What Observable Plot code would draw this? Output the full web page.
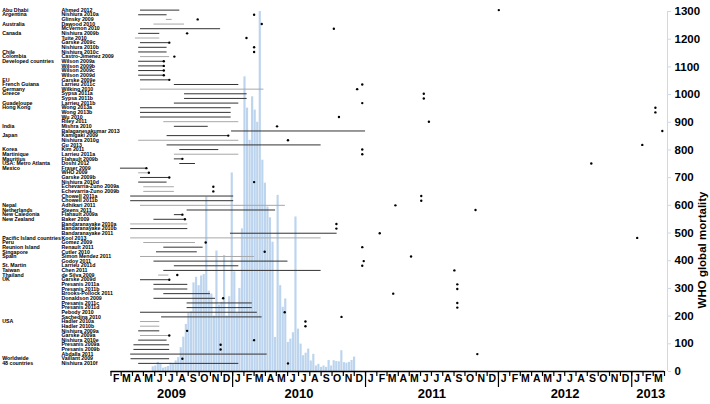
<!DOCTYPE html>
<html><head><meta charset="utf-8">
<script src="https://cdn.jsdelivr.net/npm/d3@7"></script>
<script src="https://cdn.jsdelivr.net/npm/@observablehq/plot@0.6"></script>
<style>
html,body{margin:0;padding:0;background:#fff;}
#chart{position:relative;width:710px;height:404px;font-family:"Liberation Sans",Arial,sans-serif;}
#chart svg{position:absolute;left:0;top:0;}
</style></head><body><div id="chart"></div>
<script>
// ---- Data ----
const studies = ["Ahmed 2012","Nishiura 2010a","Glinsky 2009","Dawood 2010","McVernon 2010","Nishiura 2009b","Tuite 2010","Garske 2009c","Nishiura 2010b","Nishiura 2010c","Castro-Jimenez 2009","Wilson 2009a","Wilson 2009b","Wilson 2009c","Wilson 2009d","Garske 2009e","Larrieu 2011c","Wilking 2010","Sypsa 2011a","Sypsa 2011b","Larrieu 2011b","Wong 2013a","Wong 2013b","Wu 2010","Riley 2011","Mishra 2010","Balaganesakumar 2013","Kamigaki 2009","Nishiura 2010g","Gu 2013","Kim 2011","Larrieu 2011a","Flahault 2009b","Doshi 2012","Fraser 2009","WHO 2009","Garske 2009b","Nishiura 2010d","Echevarria-Zuno 2009a","Echevarria-Zuno 2009b","Chowell 2011a","Chowell 2011b","Adhikari 2011","Steens 2011","Flahault 2009a","Baker 2009","Bandaranayake 2010a","Bandaranayake 2010b","Bandaranayake 2011","Kool 2013","Gomez 2009","Renault 2011","Cutler 2010","Simon Mendez 2011","Godoy 2011","Larrieu 2011d","Chen 2011","de Silva 2009","Garske 2009d","Presanis 2011a","Presanis 2011b","Brooks-Pollock 2011","Donaldson 2009","Presanis 2011c","Presanis 2011d","Pebody 2010","Sachedina 2010","Hadler 2010a","Hadler 2010b","Nishiura 2009a","Garske 2009a","Nishiura 2010e","Presanis 2009a","Presanis 2009b","Abdalla 2011","Vaillant 2009","Nishiura 2010f"];
const countries = ["Abu Dhabi","Argentina","","Australia","","Canada","","","","Chile","Colombia","Developed countries","","","","EU","French Guiana","Germany","Greece","","Guadeloupe","Hong Kong","","","","India","","Japan","","","Korea","Martinique","Mauritius","USA: Metro Atlanta","Mexico","","","","","","","","Nepal","Netherlands","New Caledonia","New Zealand","","","","Pacific Island countries","Peru","Reunion Island","Singapore","Spain","","St. Martin","Taiwan","Thailand","UK","","","","","","","","","USA","","","","","","","","Worldwide","48 countries"];
const periodStart = ["2009-04-23","2009-04-18","2009-07-03","2009-05-30","2009-04-23","2009-04-18","2009-04-09","2009-04-23","2009-04-18","2009-04-18","2009-04-23","2009-04-18","2009-04-18","2009-04-18","2009-04-18","2009-04-23","2009-07-25","2009-04-23","2009-08-22","2009-08-22","2009-07-25","2009-04-23","2009-04-23","2009-04-23","2009-06-26","2009-07-25","2009-12-29","2009-07-05","2009-04-18","2009-07-05","2009-08-09","2009-07-25","2009-07-25","2009-08-09","2009-02-27","2009-04-18","2009-04-23","2009-04-18","2009-05-02","2009-05-02","2009-03-27","2009-03-27","2009-04-23","2009-08-29","2009-07-25","2009-05-30","2009-03-27","2009-03-27","2009-12-26","2009-03-27","2009-05-02","2009-06-26","2009-06-06","2009-04-23","2009-05-30","2009-07-25","2009-06-26","2009-06-12","2009-04-23","2009-05-30","2009-05-30","2009-06-26","2009-05-30","2009-08-29","2009-08-29","2009-04-23","2009-06-20","2009-04-23","2009-04-23","2009-04-18","2009-04-23","2009-04-18","2009-04-05","2009-04-05","2009-03-27","2009-03-28","2009-04-18"];
const periodEnd = ["2009-08-09","2009-07-05","2009-07-19","2009-08-22","2009-11-29","2009-06-15","2009-06-15","2009-07-10","2009-07-05","2009-07-05","2009-07-12","2009-06-26","2009-06-26","2009-06-26","2009-06-26","2009-07-10","2010-01-18","2010-03-28","2010-02-10","2010-02-10","2010-01-18","2009-12-28","2009-12-28","2009-12-28","2010-01-18","2009-10-26","2011-01-01","2009-12-20","2010-01-18","2010-09-01","2009-11-24","2010-01-18","2009-08-16","2009-09-21","2009-05-07","2009-05-16","2009-07-10","2009-07-05","2009-07-25","2009-07-25","2010-01-04","2010-01-04","2010-05-26","2010-04-29","2009-08-16","2009-08-25","2009-08-31","2009-08-31","2010-10-15","2010-09-01","2009-09-21","2009-10-12","2009-09-26","2010-03-02","2010-06-02","2010-01-18","2010-09-01","2009-07-10","2009-07-10","2009-08-31","2009-08-31","2009-11-01","2009-11-15","2010-02-24","2010-02-24","2010-03-10","2010-03-23","2009-06-15","2009-06-15","2009-06-15","2009-07-10","2009-07-05","2009-07-12","2009-07-12","2010-04-06","2009-07-12","2010-01-18"];
const pubDate = ["2012-01-02","2010-03-01","2009-09-27","2010-03-22","2010-10-06","2009-08-29","2010-02-08","2009-07-11","2010-03-01","2010-03-01","2009-07-25","2009-06-26","2009-06-26","2009-06-26","2009-06-26","2009-07-11","2010-12-23","2010-12-09","2011-06-10","2011-06-10","2010-12-23","2013-03-07","2013-03-07","2010-10-20","2011-06-24","2010-05-03","2013-03-26","2009-12-20","2010-06-02","2013-01-30","2010-12-23","2010-12-23","2009-08-16","2012-09-12","2009-05-09","2009-05-16","2009-07-11","2010-03-01","2009-11-09","2009-11-09","2011-06-03","2011-06-03","2011-03-24","2011-10-30","2009-08-16","2009-08-23","2010-10-13","2010-10-13","2011-02-09","2013-01-16","2009-10-19","2010-12-23","2010-03-30","2011-05-06","2010-12-27","2010-12-23","2011-09-02","2009-08-02","2009-07-11","2011-09-10","2011-09-10","2011-03-18","2009-12-06","2011-09-10","2011-09-10","2010-05-24","2010-10-27","2010-07-20","2010-07-20","2009-08-29","2009-07-11","2010-03-01","2009-11-29","2009-11-29","2011-11-04","2009-08-16","2010-06-02"];
const lineGroup = [1,1,2,2,1,1,2,1,1,1,2,1,1,1,1,1,1,2,1,1,1,1,1,1,2,1,1,1,2,1,1,2,1,1,1,2,1,1,2,2,1,1,2,1,1,1,2,1,1,2,2,1,1,2,1,1,1,2,1,1,1,1,1,1,1,1,1,2,2,1,2,1,1,1,1,1,1];

// WHO global mortality, weekly, first week starting:
const firstWeek = "2009-05-25";
const mortality = [17,20,33,26,12,15,18,30,26,38,50,86,124,170,210,215,320,340,310,345,350,630,290,280,200,435,240,250,419,200,270,717,360,210,300,515,1064,951,835,992,944,900,1300,763,680,594,555,467,123,636,310,232,262,105,117,140,558,153,99,57,66,81,38,62,20,26,15,20,15,40,20,39,36,35,75,32,30,33,40,52];

const monthLetters = ["J","F","M","A","M","J","J","A","S","O","N","D"];
const yearLabels = ["2009","2010","2011","2012","2013"];
const yearLabelDates = ["2009-07-17","2010-07-02","2011-07-02","2012-07-02","2013-02-22"];
const yTicks = [0,100,200,300,400,500,600,700,800,900,1000,1100,1200,1300];
const axisStart = "2009-02-01", axisEnd = "2013-04-01";

// ---- Build ----
const parse = d3.utcParse("%Y-%m-%d");
const rows = studies.map((s,i)=>({study:s, country:countries[i], start:parse(periodStart[i]), end:parse(periodEnd[i]), pub:parse(pubDate[i]), group:lineGroup[i]}));
const w0 = parse(firstWeek);
const weeks = mortality.map((v,i)=>({start:d3.utcDay.offset(w0,7*i), end:d3.utcDay.offset(w0,7*i+7), value:v}));
const xDomain = [parse(axisStart), parse(axisEnd)];
const monthStarts = d3.utcMonth.range(xDomain[0], d3.utcDay.offset(xDomain[1],1));
const monthMids = d3.utcMonth.range(xDomain[0], xDomain[1]).map(d=>d3.utcDay.offset(d,14));
const yearBounds = d3.utcYear.range(d3.utcDay.offset(xDomain[0],1), xDomain[1]);
const yearMids = yearLabelDates.map(parse);

const W=710, H=404, ML=110.5, MR=46;
const font = "'Liberation Sans', Arial, sans-serif";
const styleT = {fontFamily:font, background:"transparent", overflow:"visible"};

const plotA = Plot.plot({
  width:W, height:H, marginLeft:ML, marginRight:MR, marginTop:11, marginBottom:33,
  style:styleT,
  x:{type:"utc", domain:xDomain},
  y:{domain:[0,1300]},
  marks:[
    Plot.rectY(weeks, {x1:"start", x2:"end", y:"value", fill:"#bcd4ee", insetRight:0.4}),
    Plot.ruleY([0], {stroke:"black", strokeWidth:1.4}),
    Plot.axisX({ticks:monthStarts, tickSize:5, tickFormat:()=>"", stroke:"black", strokeWidth:1.2}),
    Plot.axisX({ticks:yearBounds, tickSize:16, tickFormat:()=>"", stroke:"black", strokeWidth:1.2}),
    Plot.axisX({ticks:monthMids, tickSize:0, tickPadding:3.5, tickFormat:d=>monthLetters[d.getUTCMonth()], fontSize:10.5, fontWeight:"bold", fill:"black"}),
    Plot.axisX({ticks:yearMids, tickSize:0, tickPadding:17.5, tickFormat:d=>yearLabels[yearMids.findIndex(y=>+y===+d)], fontSize:13, fontWeight:"bold", fill:"black"}),
    Plot.ruleX([xDomain[1]], {y1:0, y2:1300, stroke:"#cbd9ea", dx:3}),
    Plot.axisY({ticks:yTicks, anchor:"right", tickSize:3, tickPadding:4, tickFormat:d=>String(d), stroke:"#cbd9ea", fill:"black", fontWeight:"bold", fontSize:11.5, label:null, dx:3}),
    Plot.text(["WHO global mortality"], {text:d=>d, frameAnchor:"right", rotate:-90, dx:38, fontWeight:"bold", fontSize:11.5, fill:"black"})
  ]
});

const plotB = Plot.plot({
  width:W, height:H, marginLeft:ML, marginRight:MR, marginTop:0, marginBottom:0,
  style:styleT,
  x:{type:"utc", domain:xDomain, axis:null},
  y:{type:"point", domain:studies, range:[7.3,365.2], axis:null},
  color:{type:"ordinal", domain:[1,2], range:["#333333","#a8a8a8"]},
  marks:[
    Plot.ruleY(rows, {y:"study", x1:"start", x2:"end", stroke:"group", strokeWidth:1}),
    Plot.dot(rows, {x:"pub", y:"study", r:1.2, fill:"black", stroke:null}),
    Plot.text(rows, {y:"study", text:"study", frameAnchor:"left", textAnchor:"start", dx:-49.5, fontSize:5.25, fontWeight:"bold", fill:"black"}),
    Plot.text(rows.filter(d=>d.country), {y:"study", text:"country", frameAnchor:"left", textAnchor:"start", dx:-108.8, fontSize:5.25, fontWeight:"bold", fill:"black"})
  ]
});

const el = document.getElementById("chart");
el.append(plotA, plotB);
</script></body></html>
